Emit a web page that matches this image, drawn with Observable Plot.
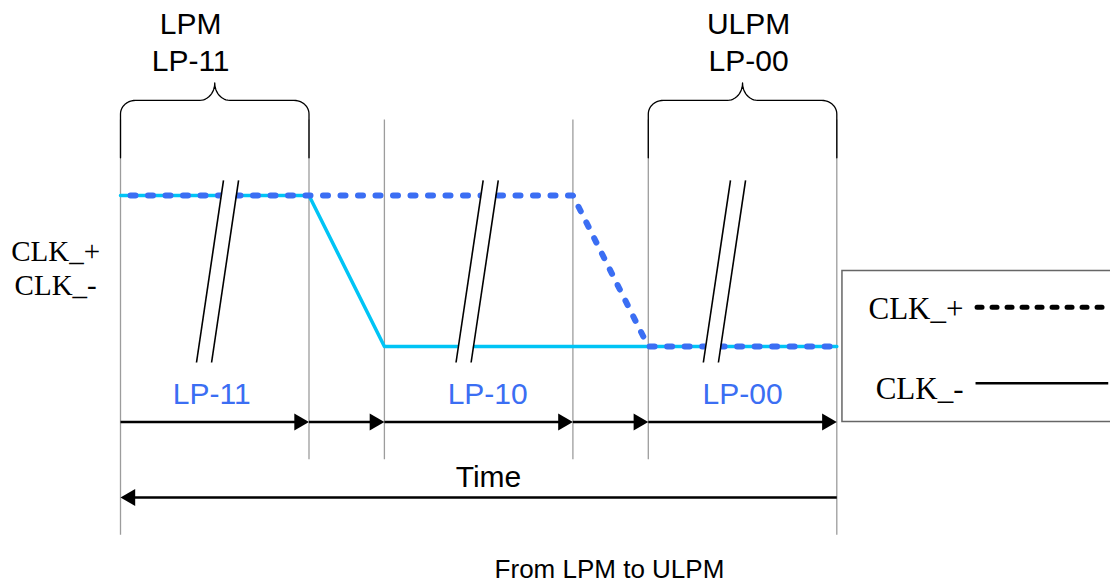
<!DOCTYPE html>
<html><head><meta charset="utf-8">
<script src="https://cdn.jsdelivr.net/npm/d3@7"></script>
<script src="https://cdn.jsdelivr.net/npm/@observablehq/plot@0.6"></script>
<style>html,body{margin:0;padding:0;background:#fff;overflow:hidden}#chart svg{display:block}</style>
</head><body><div id="chart"></div>
<script>
// ---- data (time in units, level 1 = high, 0 = low) ----
const boundaries = [0, 2.5, 3.5, 6, 7, 9.5];
const boundaryBottom = [-1.25, -0.75, -0.75, -0.75, -0.75, -1.25];
const clkPlusTime = [0, 6, 7, 9.5];
const clkPlusLevel = [1, 1, 0, 0];
const clkMinusTime = [0, 2.5, 3.5, 9.5];
const clkMinusLevel = [1, 1, 0, 0];
const stateNames = ["LP-11", "LP-10", "LP-00"];
const stateLabelX = [1.21, 4.87, 8.25];
const modeNames = ["LPM", "ULPM"];
const modeStates = ["LP-11", "LP-00"];
const modeStart = [0, 7];
const modeEnd = [2.5, 9.5];
const modeLabelX = [0.93, 8.33];
const breakTopX = [1.366, 4.81, 8.09];
const breakBottomX = [1.008, 4.45, 7.73];
const signalNames = ["CLK_+", "CLK_-"];
const legendNames = ["CLK_+", "CLK_-"];
const timeLabel = "Time";
const captionText = "From LPM to ULPM";

// ---- layout (data units) ----
const gridTop = 1.5, arrowRowY = -0.5, stateLabelY = -0.318, timeArrowY = -1, timeLabelY = -0.87;
const breakY1 = 1.1, breakY2 = -0.106, breakGap = 0.2;
const braceBase = 1.25, braceLine = 1.63, braceTip = 1.745;
const sans = "'Liberation Sans', Arial, sans-serif";
const serif = "'Liberation Serif', 'Times New Roman', serif";
const blue = "#3b6ef3", cyan = "#00c4f5";

// brace geometry generator
function brace(x0, x1, k) {
  const pts = [], rx = 0.2, ry = 0.09, ty = braceTip - braceLine, xm = (x0 + x1) / 2, n = 12;
  const arc = (cx, cy, ax, ay, a0, a1) => { for (let j = 0; j <= n; j++) { const a = a0 + (a1 - a0) * j / n; pts.push({x: cx + ax * Math.cos(a), y: cy + ay * Math.sin(a), k}); } };
  pts.push({x: x0, y: braceBase, k});
  arc(x0 + rx, braceLine - ry, rx, ry, Math.PI, Math.PI / 2);
  arc(xm - rx, braceLine + ty, rx, ty, -Math.PI / 2, 0);
  arc(xm + rx, braceLine + ty, rx, ty, Math.PI, 1.5 * Math.PI);
  arc(x1 - rx, braceLine - ry, rx, ry, Math.PI / 2, 0);
  pts.push({x: x1, y: braceBase, k});
  return pts;
}
const bracePts = modeStart.flatMap((s, i) => brace(s, modeEnd[i], i));
const breakLines = breakTopX.flatMap((t, i) => [0, breakGap].map(g => ({xa: t + g, xb: breakBottomX[i] + g})));
const breakFill = breakTopX.flatMap((t, i) => [{y: breakY1, a: t, b: t + breakGap, k: i}, {y: breakY2, a: breakBottomX[i], b: breakBottomX[i] + breakGap, k: i}]);
const segments = boundaries.slice(1).map((b, i) => ({s: boundaries[i], e: b}));
const headLen = 0.08;

const chart = Plot.plot({
  width: 1110, height: 583, margin: 0,
  x: {domain: [0, 9.5], range: [120, 836.3], axis: null},
  y: {domain: [0, 1], range: [346, 195], axis: null},
  style: {background: "white"},
  marks: [
    Plot.ruleX(boundaries, {x: d => d, y1: gridTop, y2: (d, i) => boundaryBottom[i], stroke: "#9c9c9c", strokeWidth: 1.3}),
    Plot.rect([0], {x1: 9.575, x2: 14, y1: -0.5, y2: 0.5, fill: "white", stroke: "#666", strokeWidth: 1.5}),
    Plot.line(clkMinusTime, {x: d => d, y: (d, i) => clkMinusLevel[i], stroke: cyan, strokeWidth: 3.5}),
    Plot.line(clkPlusTime, {x: d => d, y: (d, i) => clkPlusLevel[i], stroke: blue, strokeWidth: 6, strokeDasharray: "5,12.5", strokeDashoffset: 7.5, strokeLinecap: "round", strokeLinejoin: "round"}),
    Plot.areaX(breakFill, {y: "y", x1: "a", x2: "b", z: "k", fill: "white"}),
    Plot.link(breakLines, {x1: "xa", y1: breakY1, x2: "xb", y2: breakY2, stroke: "black", strokeWidth: 1.6}),
    Plot.line(bracePts, {x: "x", y: "y", z: "k", stroke: "black", strokeWidth: 1.3}),
    Plot.text(modeNames, {x: (d, i) => modeLabelX[i], y: 2.13, text: d => d, fontSize: 30, fontFamily: sans, fill: "black"}),
    Plot.text(modeStates, {x: (d, i) => modeLabelX[i], y: 1.885, text: d => d, fontSize: 30, fontFamily: sans, fill: "black"}),
    Plot.text(stateNames, {x: (d, i) => stateLabelX[i], y: stateLabelY, text: d => d, fontSize: 30, fontFamily: sans, fill: blue}),
    Plot.link(segments, {x1: "s", x2: d => d.e - headLen, y1: arrowRowY, y2: arrowRowY, stroke: "black", strokeWidth: 2.5}),
    Plot.dot(segments, {x: "e", y: arrowRowY, symbol: "triangle", r: 6.3, rotate: 90, dx: -9.8, fill: "black", stroke: "none"}),
    Plot.link([boundaries], {x1: d => d[d.length - 1], x2: d => d[0] + headLen, y1: timeArrowY, y2: timeArrowY, stroke: "black", strokeWidth: 2.5}),
    Plot.dot([boundaries[0]], {x: d => d, y: timeArrowY, symbol: "triangle", r: 6.3, rotate: -90, dx: 9.8, fill: "black", stroke: "none"}),
    Plot.text([timeLabel], {x: 4.88, y: timeLabelY, text: d => d, fontSize: 30, fontFamily: sans, fill: "black"}),
    Plot.text([captionText], {x: 6.485, y: -1.477, text: d => d, fontSize: 26, fontFamily: sans, fill: "black"}),
    Plot.text(signalNames, {x: -0.86, y: (d, i) => [0.625, 0.405][i], text: d => d, fontSize: 29, fontFamily: serif, fill: "black"}),
    Plot.text(legendNames, {x: 11.18, y: (d, i) => [0.25, -0.285][i], text: d => d, textAnchor: "end", fontSize: 31, fontFamily: serif, fill: "black"}),
    Plot.link([legendNames[0]], {x1: 11.36, x2: 13.1, y1: 0.26, y2: 0.26, stroke: "black", strokeWidth: 5, strokeDasharray: "5,10", strokeLinecap: "round"}),
    Plot.link([legendNames[1]], {x1: 11.34, x2: 13.1, y1: -0.243, y2: -0.243, stroke: "black", strokeWidth: 2.5})
  ]
});
document.getElementById("chart").appendChild(chart);
</script>
</body></html>
